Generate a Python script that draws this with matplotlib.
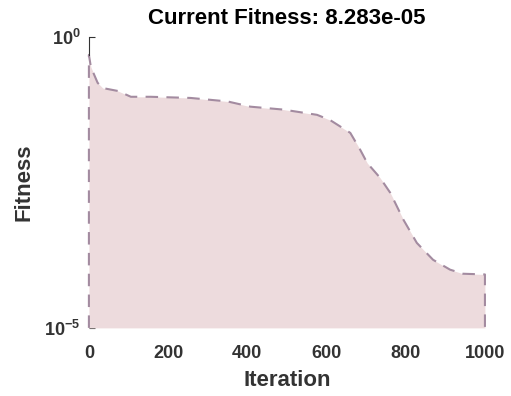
import numpy as np
import matplotlib
matplotlib.use("Agg")
import matplotlib.pyplot as plt

plt.rcParams['font.family'] = ['Liberation Sans', 'DejaVu Sans']
plt.rcParams['font.weight'] = 'bold'
plt.rcParams['mathtext.fontset'] = 'custom'
plt.rcParams['mathtext.rm'] = 'Liberation Sans:bold'
plt.rcParams['mathtext.bf'] = 'Liberation Sans:bold'

# iteration vs fitness
iters = [0, 5, 22, 35, 73, 106, 156, 257, 350, 408, 491, 576, 609, 660, 685,
         703, 735, 761, 794, 828, 869, 912, 945, 1000]
log_fit = [-0.31, -0.52, -0.79, -0.88, -0.93, -1.03, -1.03, -1.05, -1.11, -1.2,
           -1.25, -1.34, -1.43, -1.65, -1.94, -2.17, -2.42, -2.68, -3.14,
           -3.54, -3.83, -4.0, -4.07, -4.082]
fitness = 10 ** np.array(log_fit)
best = 8.283e-05

fill_col = '#eddbdd'
line_col = '#a38ba0'
text_col = '#333333'

fig = plt.figure(figsize=(5.11, 3.96), dpi=100)
ax = fig.add_axes([0.174, 0.172, 0.775, 0.735])

ax.set_yscale('log')
ax.set_xlim(0, 1000)
ax.set_ylim(1e-5, 1e0)

ax.fill_between(iters, 1e-5, fitness, color=fill_col, lw=0, zorder=1)
xs = [0] + iters + [1000]
ys = [1e-5] + list(fitness) + [1e-5]
ax.plot(xs, ys, ls=(0, (6, 4)), color=line_col, lw=1.5, zorder=2, clip_on=False)

ax.set_axisbelow(True)
for s in ['top', 'right', 'bottom']:
    ax.spines[s].set_visible(False)
# the patch hides the axis line below the curve
ax.spines['left'].set_bounds(fitness[0], 1e0)
ax.spines['left'].set_color(text_col)

ax.set_yticks([1e-5, 1e0])
ax.set_yticklabels([r'$\mathbf{10^{-5}}$', r'$\mathbf{10^{0}}$'])
ax.yaxis.set_minor_locator(matplotlib.ticker.NullLocator())
ax.set_xticks([0, 200, 400, 600, 800, 1000])
ax.tick_params(direction='in', length=4, colors=text_col, labelsize=13)
ax.tick_params(axis='x', pad=12, length=0)
ax.tick_params(axis='y', pad=6)

ax.set_xlabel('Iteration', fontsize=16, fontweight='bold', color=text_col, labelpad=6)
ax.set_ylabel('Fitness', fontsize=16, fontweight='bold', color=text_col, labelpad=7)
ax.set_title('Current Fitness: %.3e' % best, fontsize=16, fontweight='bold',
             color='black', pad=9)

fig.savefig('out.png', dpi=100)
